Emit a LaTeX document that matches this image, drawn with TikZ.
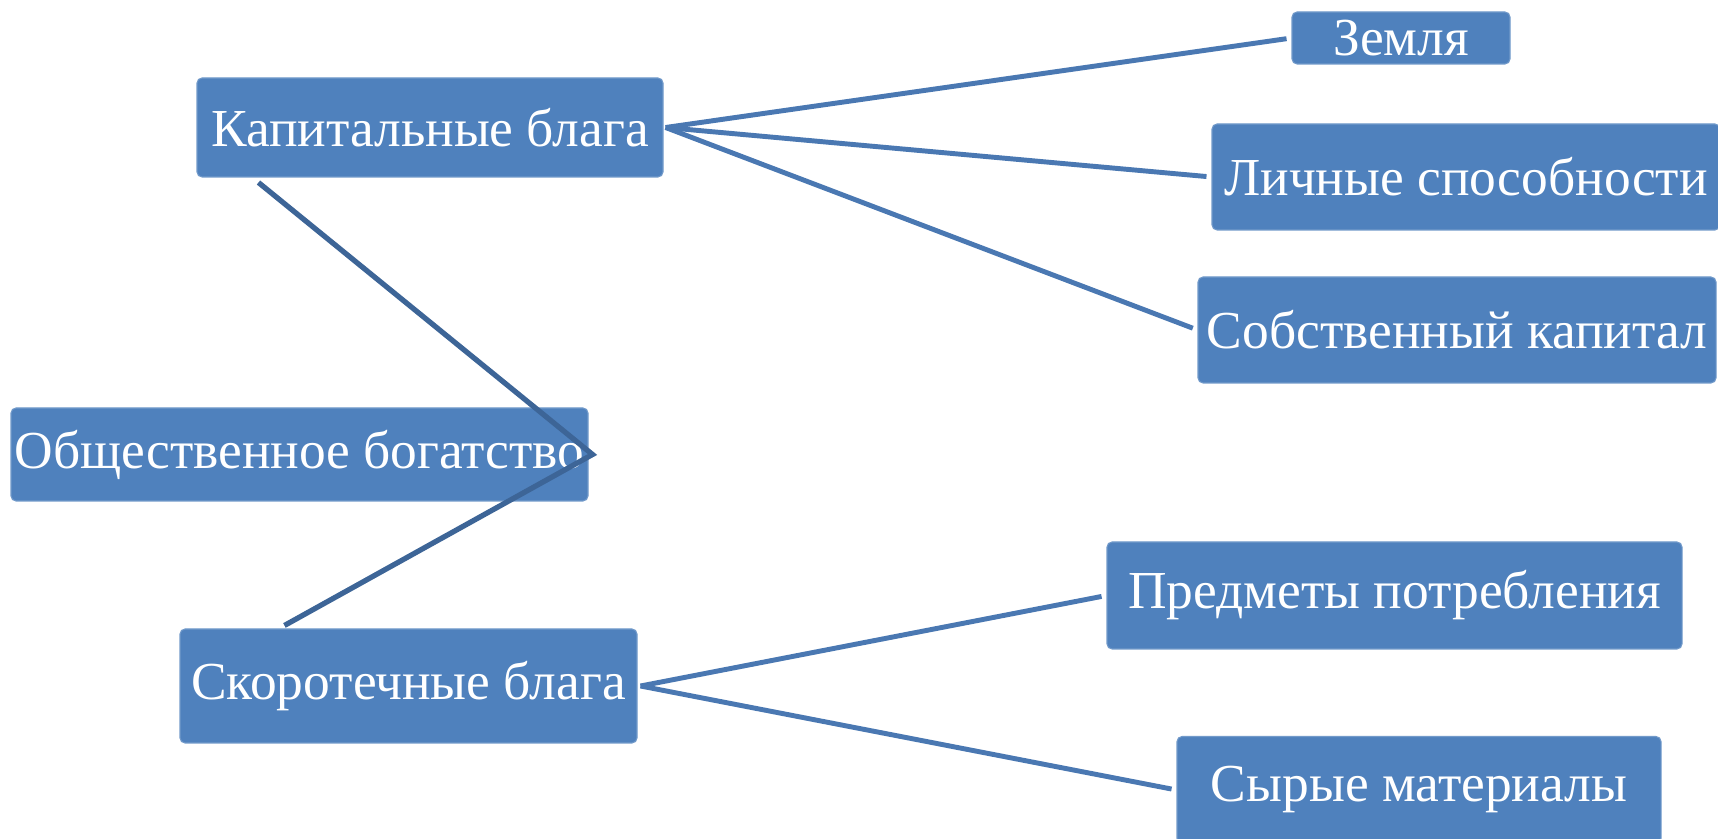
\documentclass[tikz,border=0pt]{standalone}
\usepackage{fontspec}
\setmainfont{Liberation Serif}
\usetikzlibrary{positioning}

\definecolor{boxblue}{HTML}{4F81BD}
\definecolor{linkblue}{HTML}{4A78B2}
\definecolor{darklink}{HTML}{3D6597}

\begin{document}
\begin{tikzpicture}[box/.style={fill=boxblue,draw=boxblue!80!white,line width=0.6pt,rounded corners=0.1cm,
                   text=white,inner sep=0pt,font=\fontsize{30.4}{36}\selectfont},
                   link/.style={draw=linkblue,line width=2.8pt,shorten >=0.1cm},
                   trunk/.style={draw=darklink,line width=3pt}]
\useasboundingbox (0,0) rectangle (34.36,16.78);
\node[box,minimum width=4.36cm,minimum height=1.04cm] (zemlya) at (28.02,16.02) {Земля};
\node[box,minimum width=9.32cm,minimum height=1.98cm] (kapital) at (8.60,14.23) {Капитальные блага};
\node[box,minimum width=10.16cm,minimum height=2.12cm] (lichnye) at (29.32,13.24) {Личные способности};
\node[box,minimum width=10.36cm,minimum height=2.12cm] (sobstv) at (29.14,10.18) {Собственный капитал};
\node[box,minimum width=11.54cm,minimum height=1.86cm] (obsch) at (5.99,7.69) {Общественное богатство};
\node[box,minimum width=11.50cm,minimum height=2.14cm] (predmety) at (27.89,4.87) {Предметы потребления};
\node[box,minimum width=9.14cm,minimum height=2.28cm] (skorot) at (8.17,3.06) {Скоротечные блага};
\node[box,minimum width=9.68cm,minimum height=2.14cm] (syrye) at (28.38,0.98) {Сырые материалы};

% ends of the two trunk lines
\coordinate (kapfoot) at ([xshift=1.24cm,yshift=-0.1cm]kapital.south west);
\coordinate (skorhead) at ([xshift=2.1cm,yshift=0.06cm]skorot.north west);
\coordinate (obschtip) at ([xshift=0.08cm]obsch.east);

\draw[trunk] (kapfoot) -- (obschtip) -- (skorhead);

\draw[link] ([xshift=0.04cm]kapital.east) -- (zemlya.west);
\draw[link] ([xshift=0.04cm]kapital.east) -- (lichnye.west);
\draw[link] ([xshift=0.04cm]kapital.east) -- (sobstv.west);
\draw[link] ([xshift=0.06cm]skorot.east) -- (predmety.west);
\draw[link] ([xshift=0.06cm]skorot.east) -- (syrye.west);
\end{tikzpicture}
\end{document}
